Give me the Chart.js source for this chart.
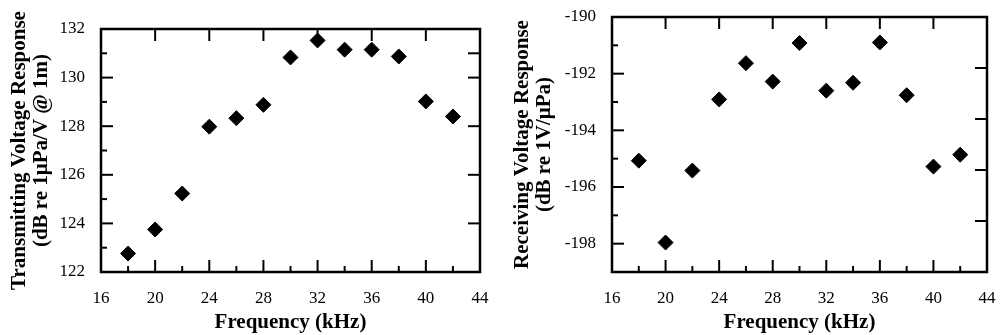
<!DOCTYPE html>
<html>
<head>
<meta charset="utf-8">
<script src="https://cdn.jsdelivr.net/npm/chart.js@4/dist/chart.umd.min.js"></script>
<style>
html,body{margin:0;padding:0;background:#fff;width:1000px;height:335px;overflow:hidden;}
.wrap{position:absolute;top:0;width:500px;height:335px;}
</style>
</head>
<body>
<div class="wrap" style="left:0"><canvas id="c1" width="500" height="335"></canvas></div>
<div class="wrap" style="left:500px"><canvas id="c2" width="500" height="335"></canvas></div>
<script>
// ---- data ----
const frequencies = [18, 20, 22, 24, 26, 28, 30, 32, 34, 36, 38, 40, 42];
const tvr = [122.76, 123.75, 125.23, 127.98, 128.33, 128.88, 130.83, 131.53, 131.15, 131.15, 130.87, 129.02, 128.4];
const rvr = [-195.07, -197.96, -195.42, -192.91, -191.63, -192.28, -190.92, -192.6, -192.32, -190.9, -192.76, -195.28, -194.86];

// ---- tick labels / tick positions ----
const xTickLabels = [16, 20, 24, 28, 32, 36, 40, 44];
const xMinorTicks = [18, 22, 26, 30, 34, 38, 42];
const xTopTicks = [20, 24, 28, 32, 36, 40];
const tvrTickLabels = [122, 124, 126, 128, 130, 132];
const tvrMinorTicks = [123, 125, 127, 129, 131];
const tvrRightTicks = [131, 130, 128, 126, 124];
const rvrTickLabels = [-198, -196, -194, -192, -190];
const rvrMinorTicks = [-199, -197, -195, -193, -191];
const rvrRightTicks = [-191.8, -193.6, -195.4, -197.2];

const SERIF = "'Liberation Serif', 'Times New Roman', serif";

const frameTicks = {
  id: 'frameTicks',
  afterDatasetsDraw(chart, args, o) {
    const {ctx, chartArea: {left, right, top, bottom}, scales: {x, y}} = chart;
    ctx.save();
    ctx.strokeStyle = '#000';
    ctx.lineWidth = 2;
    const seg = (x1, y1, x2, y2) => { ctx.beginPath(); ctx.moveTo(x1, y1); ctx.lineTo(x2, y2); ctx.stroke(); };
    const MAJ = 12, MIN = 6;
    o.xMajor.forEach(v => { const p = x.getPixelForValue(v); seg(p, bottom, p, bottom - MAJ); });
    o.xMinor.forEach(v => { const p = x.getPixelForValue(v); seg(p, bottom, p, bottom - MIN); });
    o.xTop.forEach(v => { const p = x.getPixelForValue(v); seg(p, top, p, top + MAJ); });
    o.yMajor.forEach(v => { const p = y.getPixelForValue(v); seg(left, p, left + MAJ, p); });
    o.yMinor.forEach(v => { const p = y.getPixelForValue(v); seg(left, p, left + MIN, p); });
    o.yRight.forEach(v => { const p = y.getPixelForValue(v); seg(right, p, right - MAJ, p); });
    ctx.lineWidth = 2.5;
    ctx.strokeRect(left, top, right - left, bottom - top);
    ctx.restore();
  }
};

function zeroPad(s) { s.paddingLeft = 0; s.paddingRight = 0; s.paddingTop = 0; s.paddingBottom = 0; }

function makeChart(id, values, yMin, yMax, yLabels, yMinor, yRight, titleLines, pad, yWidth, titlePad) {
  return new Chart(document.getElementById(id), {
    type: 'scatter',
    data: {
      datasets: [{
        data: frequencies.map((f, i) => ({x: f, y: values[i]})),
        pointStyle: 'rectRot',
        pointRadius: 7.5,
        pointHoverRadius: 7.5,
        backgroundColor: '#000',
        borderColor: '#000',
        borderWidth: 1
      }]
    },
    options: {
      responsive: false,
      animation: false,
      events: [],
      layout: {padding: pad},
      plugins: {
        legend: {display: false},
        tooltip: {enabled: false},
        frameTicks: {xMajor: xTickLabels, xMinor: xMinorTicks, xTop: xTopTicks, yMajor: yLabels, yMinor: yMinor, yRight: yRight}
      },
      scales: {
        x: {
          type: 'linear', min: 16, max: 44,
          afterBuildTicks: s => { s.ticks = xTickLabels.map(v => ({value: v})); },
          afterFit: s => { s.height = 335 - 272 - pad.bottom; zeroPad(s); },
          grid: {display: false, drawTicks: false},
          border: {display: false},
          ticks: {color: '#000', padding: 16, font: {family: SERIF, size: 17}, maxRotation: 0, autoSkip: false},
          title: {display: true, text: 'Frequency (kHz)', color: '#000', padding: {top: 0, bottom: 0}, font: {family: SERIF, size: 21, weight: 'bold', lineHeight: 1.2}}
        },
        y: {
          type: 'linear', min: yMin, max: yMax,
          afterBuildTicks: s => { s.ticks = yLabels.map(v => ({value: v})); },
          afterFit: s => { s.width = yWidth; zeroPad(s); },
          grid: {display: false, drawTicks: false},
          border: {display: false},
          ticks: {color: '#000', padding: 16, font: {family: SERIF, size: 17}, autoSkip: false},
          title: {display: true, text: titleLines, color: '#000', padding: {top: titlePad, bottom: 0}, font: {family: SERIF, size: 21, weight: 'bold', lineHeight: 1.08}}
        }
      }
    },
    plugins: [frameTicks]
  });
}

makeChart('c1', tvr, 122, 132, tvrTickLabels, tvrMinorTicks, tvrRightTicks,
  ['Transmitting Voltage Response', '(dB re 1\u03bcPa/V @ 1m)'],
  {top: 29, right: 20, bottom: 0, left: 0}, 101, 8);
makeChart('c2', rvr, -199, -190, rvrTickLabels, rvrMinorTicks, rvrRightTicks,
  ['Receiving Voltage Response', '(dB re 1V/\u03bcPa)'],
  {top: 17, right: 13, bottom: 0, left: 0}, 112, 11);
</script>
</body>
</html>
